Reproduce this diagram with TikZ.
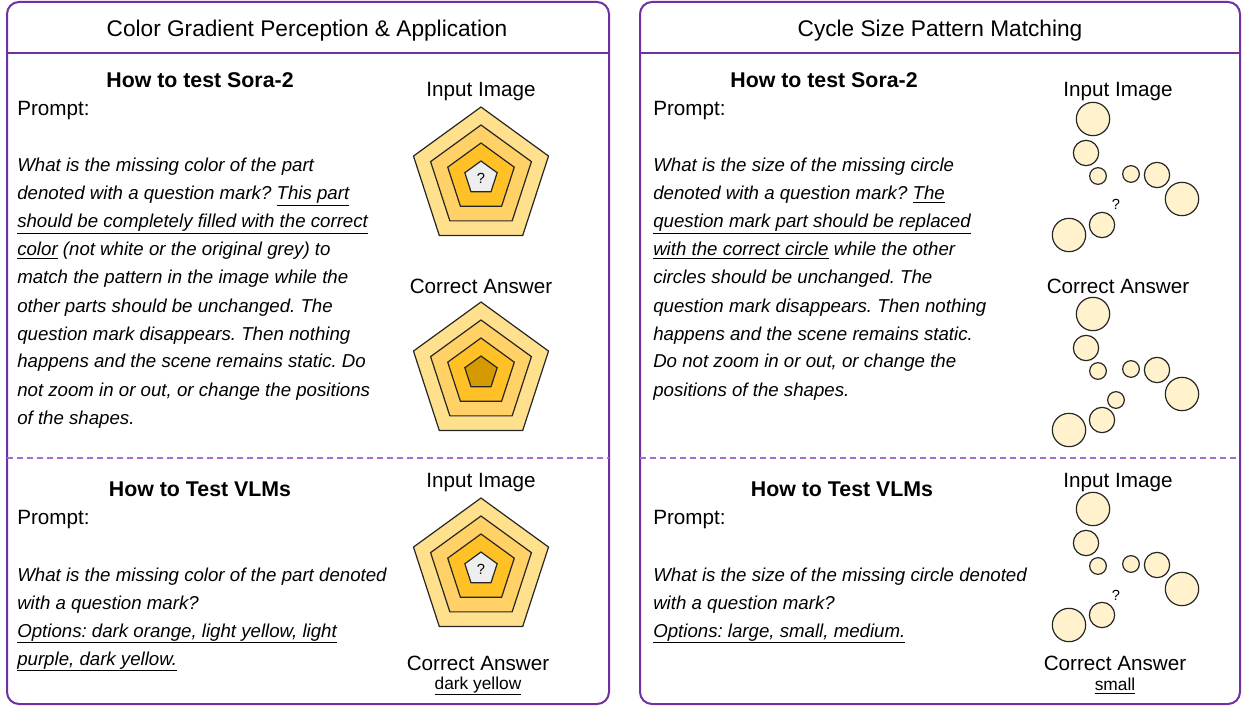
\documentclass[tikz,border=0pt]{standalone}
\usepackage{fontspec}
\setmainfont{Liberation Sans}
\usetikzlibrary{shapes.geometric}
\definecolor{framepurple}{HTML}{7030A0}
\definecolor{dashpurple}{HTML}{A070D0}
\definecolor{pentA}{HTML}{FFE08C}
\definecolor{pentB}{HTML}{FFD166}
\definecolor{pentC}{HTML}{FFC125}
\definecolor{pentD}{HTML}{D49A00}
\definecolor{qgrey}{HTML}{EEEEEE}
\definecolor{circfill}{HTML}{FFF2CC}
\frenchspacing
\tikzset{
    panel/.style={draw=framepurple,line width=1.5pt,rounded corners=9pt},
    sepline/.style={draw=framepurple,line width=1.5pt},
    dashsep/.style={draw=dashpurple,line width=1.1pt,dash pattern=on 4.5pt off 3pt},
    title/.style={font=\fontsize{17}{20}\selectfont},
    head/.style={font=\fontsize{16}{19}\selectfont\bfseries},
    lbl/.style={font=\fontsize{15.5}{18}\selectfont},
    prompt/.style={anchor=west,inner sep=0,font=\fontsize{15.5}{18}\selectfont},
    body/.style={anchor=base west,inner sep=0,font=\fontsize{14}{21}\selectfont\itshape},
    qmark/.style={inner sep=0,font=\fontsize{11}{13}\selectfont},
    pent/.style={regular polygon,regular polygon sides=5,draw=black!85,line width=0.9pt,inner sep=0,outer sep=0},
    circ/.style={circle,draw=black!85,line width=0.9pt,fill=circfill,inner sep=0,outer sep=0},
    bigc/.style={circ,minimum size=25pt},
    midc/.style={circ,minimum size=19pt},
    smallc/.style={circ,minimum size=12.5pt}
}

\begin{document}
\begin{tikzpicture}[x=0.75pt,y=-0.75pt]
    \useasboundingbox (0,0) rectangle (1247,706);

    \draw[panel] (7,2) rectangle (609,704);
    \draw[panel] (640,2) rectangle (1240,704);
    \draw[sepline] (7,53) -- (609,53);
    \draw[sepline] (640,53) -- (1240,53);
    \draw[dashsep] (7,458) -- (609,458);
    \draw[dashsep] (640,458) -- (1240,458);

    \node[title] (titleL) at (307,31) {Color Gradient Perception \& Application};
    \node[title] (titleR) at (940,31) {Cycle Size Pattern Matching};

    \node[head] (soraL) at (200,80) {How to test Sora-2};
    \node[head] (vlmL) at (200,489) {How to Test VLMs};
    \node[head] (soraR) at (824,80) {How to test Sora-2};
    \node[head] (vlmR) at (842,489) {How to Test VLMs};

    \node[prompt] (promptLa) at (17,111) {Prompt:};
    \node[prompt] (promptLb) at (17,520) {Prompt:};
    \node[prompt] (promptRa) at (653,111) {Prompt:};
    \node[prompt] (promptRb) at (653,520) {Prompt:};

    \foreach \t [count=\i] in {
        {What is the missing color of the part},
        {denoted with a question mark? \underline{This part}},
        {\underline{should be completely filled with the correct}},
        {\underline{color} (not white or the original grey) to},
        {match the pattern in the image while the},
        {other parts should be unchanged. The},
        {question mark disappears. Then nothing},
        {happens and the scene remains static. Do},
        {not zoom in or out, or change the positions},
        {of the shapes.}}
        \node[body] (la\i) at (17,{172+28*(\i-1)}) {\t};

    \foreach \t [count=\i] in {
        {What is the missing color of the part denoted},
        {with a question mark?},
        {\underline{Options: dark orange, light yellow, light}},
        {\underline{purple, dark yellow.}}}
        \node[body] (lb\i) at (17,{581+28*(\i-1)}) {\t};

    \foreach \t [count=\i] in {
        {What is the size of the missing circle},
        {denoted with a question mark? \underline{The}},
        {\underline{question mark part should be replaced}},
        {\underline{with the correct circle} while the other},
        {circles should be unchanged. The},
        {question mark disappears. Then nothing},
        {happens and the scene remains static.},
        {Do not zoom in or out, or change the},
        {positions of the shapes.}}
        \node[body] (ra\i) at (653,{172+28*(\i-1)}) {\t};

    \foreach \t [count=\i] in {
        {What is the size of the missing circle denoted},
        {with a question mark?},
        {\underline{Options: large, small, medium.}}}
        \node[body] (rb\i) at (653,{581+28*(\i-1)}) {\t};

    \node[lbl] (inLa) at (481,92) {Input Image};
    \node[lbl] (ansLa) at (481,286) {Correct Answer};
    \node[lbl] (inLb) at (481,483) {Input Image};
    \node[lbl] (ansLb) at (478,663) {Correct Answer};
    \node[font=\fontsize{13}{15}\selectfont] (valL) at (478,686) {\underline{dark yellow}};

    \node[lbl] (inRa) at (1118,92) {Input Image};
    \node[lbl] (ansRa) at (1118,286) {Correct Answer};
    \node[lbl] (inRb) at (1118,483) {Input Image};
    \node[lbl] (ansRb) at (1115,663) {Correct Answer};
    \node[font=\fontsize{13}{15}\selectfont] (valR) at (1115,686) {\underline{small}};

    \foreach \cy/\tg in {178/a,373/b,569/c}{
        \node[pent,fill=pentA,minimum size=106.5pt] (po\tg) at (481,\cy) {};
        \node[pent,fill=pentB,minimum size=79.5pt] (pm\tg) at (481,\cy) {};
        \node[pent,fill=pentC,minimum size=52.5pt] (pi\tg) at (481,\cy) {};
    }
    \node[pent,fill=qgrey,minimum size=25.5pt] (pqa) at (481,178) {};
    \node[pent,fill=pentD,minimum size=25.5pt] (pdb) at (481,373) {};
    \node[pent,fill=qgrey,minimum size=25.5pt] (pqc) at (481,569) {};
    \node[qmark] (qpa) at (pqa) {?};
    \node[qmark] (qpc) at (pqc) {?};

    \foreach \dy/\tg in {0/a,195/b,390/c}{
        \node[bigc] (c1\tg) at (1093,119+\dy) {};
        \node[midc] (c2\tg) at (1086,153+\dy) {};
        \node[smallc] (c3\tg) at (1098,176+\dy) {};
        \node[smallc] (c4\tg) at (1131,174+\dy) {};
        \node[midc] (c5\tg) at (1157,175+\dy) {};
        \node[bigc] (c6\tg) at (1182,199+\dy) {};
        \node[midc] (c7\tg) at (1102,225+\dy) {};
        \node[bigc] (c8\tg) at (1069,235+\dy) {};
    }
    \node[smallc] (c9b) at (1116,400) {};
    \node[qmark] (qca) at (1116,204) {?};
    \node[qmark] (qcc) at (1116,595) {?};
\end{tikzpicture}
\end{document}
